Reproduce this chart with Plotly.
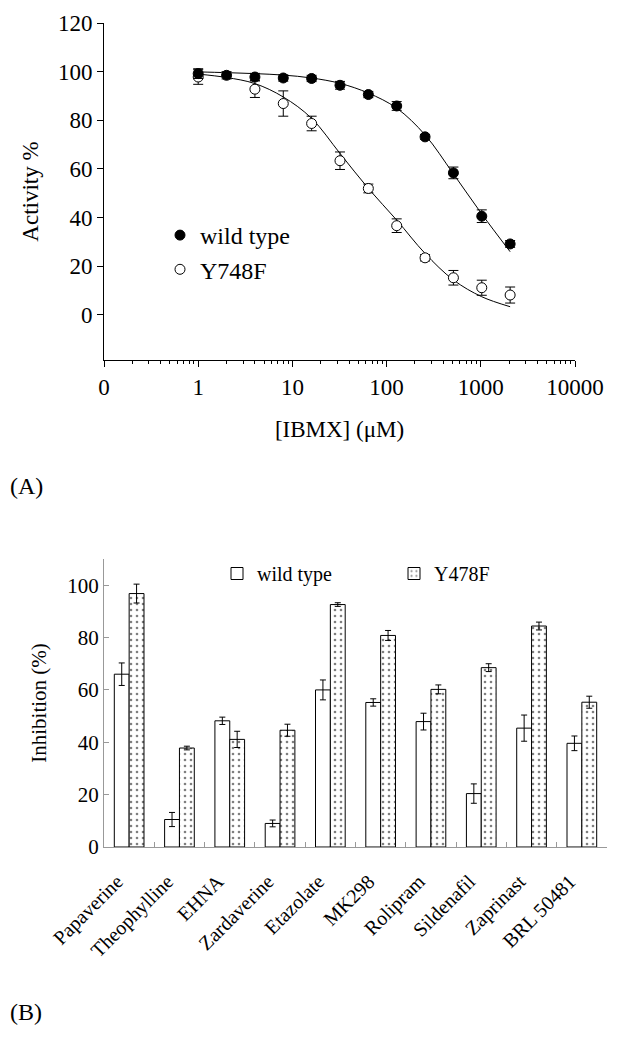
import plotly.graph_objects as go

# ---------- Panel A data ----------
conc_wt = [1, 2, 4, 8, 16, 32, 64, 128, 256, 512, 1024, 2048]
act_wt = [99.2, 98.5, 97.8, 97.4, 97.2, 94.4, 90.6, 85.9, 73.2, 58.4, 40.6, 29.2]
err_wt = [2.0, 1.5, 1.5, 1.3, 1.3, 1.6, 1.3, 1.8, 1.0, 2.4, 2.6, 1.4]

conc_mut = [1, 4, 8, 16, 32, 64, 128, 256, 512, 1024, 2048]
act_mut = [97.8, 92.8, 86.9, 78.7, 63.4, 52.0, 36.7, 23.5, 15.3, 11.2, 8.2]
err_mut = [3.0, 3.4, 5.2, 3.0, 3.6, 1.8, 2.8, 1.3, 3.0, 3.1, 3.3]

curve_x = [1, 2, 4, 8, 16, 32, 64, 128, 256, 512, 1024, 2048]
curve_wt = [99.9, 99.6, 99.2, 98.6, 97.4, 95.2, 91.2, 85.0, 74.0, 58.0, 41.5, 26.0]
curve_mut = [99.0, 97.6, 95.1, 89.6, 80.8, 66.4, 52.0, 39.0, 25.3, 14.4, 7.5, 3.4]

xtick_vals = [0.1, 1, 10, 100, 1000, 10000]
xtick_text = ["0", "1", "10", "100", "1000", "10000"]
ytick_vals_a = [0, 20, 40, 60, 80, 100, 120]

# ---------- Panel B data ----------
drugs = ["Papaverine", "Theophylline", "EHNA", "Zardaverine", "Etazolate",
         "MK298", "Rolipram", "Sildenafil", "Zaprinast", "BRL 50481"]
inh_wt = [66.0, 10.5, 48.2, 9.0, 60.0, 55.2, 47.9, 20.4, 45.4, 39.6]
inh_wt_err = [4.3, 2.7, 1.4, 1.3, 3.8, 1.4, 3.2, 3.7, 5.0, 2.8]
inh_mut = [96.8, 37.8, 41.1, 44.6, 92.6, 80.8, 60.2, 68.5, 84.4, 55.3]
inh_mut_err = [3.6, 0.7, 3.1, 2.3, 0.7, 1.9, 1.7, 1.5, 1.5, 2.3]
ytick_vals_b = [0, 20, 40, 60, 80, 100]

FONT = "Liberation Serif"
W, H = 624, 1050
OX, OY = 8, 8  # page body offset

def px_x(p):
    return (p - OX) / W

def px_y(p):
    return 1 - (p - OY) / H

minor_vals = [k * 10 ** d for d in range(-1, 4) for k in range(2, 10)]

fig = go.Figure()

# Panel A curves
fig.add_trace(go.Scatter(x=curve_x, y=curve_wt, mode="lines", line=dict(color="black", width=1, shape="spline"),
                         showlegend=False, xaxis="x", yaxis="y", hoverinfo="skip"))
fig.add_trace(go.Scatter(x=curve_x, y=curve_mut, mode="lines", line=dict(color="black", width=1, shape="spline"),
                         showlegend=False, xaxis="x", yaxis="y", hoverinfo="skip"))
# Panel A points
fig.add_trace(go.Scatter(x=conc_mut, y=act_mut, mode="markers", name="Y748F",
                         marker=dict(symbol="circle", size=10, color="white", line=dict(color="black", width=1)),
                         error_y=dict(type="data", array=err_mut, color="black", thickness=1, width=5),
                         xaxis="x", yaxis="y", legend="legend", legendrank=2))
fig.add_trace(go.Scatter(x=conc_wt, y=act_wt, mode="markers", name="wild type",
                         marker=dict(symbol="circle", size=10, color="black", line=dict(color="black", width=1)),
                         error_y=dict(type="data", array=err_wt, color="black", thickness=1, width=5),
                         xaxis="x", yaxis="y", legend="legend", legendrank=1))

# Panel B bars
fig.add_trace(go.Bar(x=drugs, y=inh_wt, name="wild type",
                     marker=dict(color="white", line=dict(color="black", width=1)),
                     error_y=dict(type="data", array=inh_wt_err, color="black", thickness=1, width=3),
                     xaxis="x2", yaxis="y2", legend="legend2"))
fig.add_trace(go.Bar(x=drugs, y=inh_mut, name="Y478F",
                     marker=dict(color="white", line=dict(color="black", width=1),
                                 pattern=dict(shape=".", fgcolor="black", bgcolor="white", size=6, solidity=0.15)),
                     error_y=dict(type="data", array=inh_mut_err, color="black", thickness=1, width=3),
                     xaxis="x2", yaxis="y2", legend="legend2"))

fig.update_layout(
    width=W, height=H,
    margin=dict(l=0, r=0, t=0, b=0, pad=0, autoexpand=False),
    paper_bgcolor="white", plot_bgcolor="white",
    font=dict(family=FONT, color="black", size=22),
    barmode="group", bargap=0.41, bargroupgap=0,
    xaxis=dict(type="log", domain=[px_x(104), px_x(575)], range=[-1, 4], anchor="y", automargin=False,
               tickmode="array", tickvals=xtick_vals, ticktext=xtick_text,
               ticks="outside", ticklen=6, tickcolor="black", showline=True, linecolor="black", linewidth=1,
               showgrid=False, zeroline=False, tickfont=dict(size=23),
               minor=dict(tickvals=minor_vals, ticks="outside", ticklen=3, tickcolor="black", showgrid=False),
               title=dict(text="[IBMX] (μM)", font=dict(size=23), standoff=22)),
    yaxis=dict(domain=[px_y(360), px_y(23)], range=[-18.5, 120], anchor="x", automargin=False,
               tickmode="array", tickvals=ytick_vals_a,
               ticks="outside", ticklen=6, tickcolor="black", showline=True, linecolor="black", linewidth=1,
               showgrid=False, zeroline=False, tickfont=dict(size=23),
               title=dict(text="Activity %", font=dict(size=23), standoff=12)),
    xaxis2=dict(domain=[px_x(104), px_x(607)], anchor="y2", type="category", automargin=False,
                ticks="inside", tickson="boundaries", ticklen=5, tickcolor="#999999",
                showline=True, linecolor="#999999", linewidth=1, showgrid=False,
                tickangle=-45, tickfont=dict(size=20), ticklabelstandoff=14, ticklabelshift=-12),
    yaxis2=dict(domain=[px_y(847), px_y(559)], range=[0, 110], anchor="x2", automargin=False,
                tickmode="array", tickvals=ytick_vals_b,
                ticks="inside", ticklen=5, tickcolor="#999999", showline=True, linecolor="#999999", linewidth=1,
                showgrid=False, zeroline=False, tickfont=dict(size=21),
                title=dict(text="Inhibition (%)", font=dict(size=21), standoff=14)),
    legend=dict(x=px_x(160), y=px_y(213), xanchor="left", yanchor="top", font=dict(size=24),
                bgcolor="rgba(0,0,0,0)", borderwidth=0, tracegroupgap=0, itemwidth=30),
    legend2=dict(x=px_x(217), y=px_y(554), xanchor="left", yanchor="top", orientation="h",
                 font=dict(size=20), bgcolor="rgba(0,0,0,0)", borderwidth=0, entrywidth=132),
    annotations=[
        dict(text="(A)", x=px_x(8), y=px_y(486), xref="paper", yref="paper", xanchor="left", yanchor="middle",
             showarrow=False, font=dict(size=24)),
        dict(text="(B)", x=px_x(8), y=px_y(1012), xref="paper", yref="paper", xanchor="left", yanchor="middle",
             showarrow=False, font=dict(size=24)),
    ],
)

fig.write_html("out.html")
